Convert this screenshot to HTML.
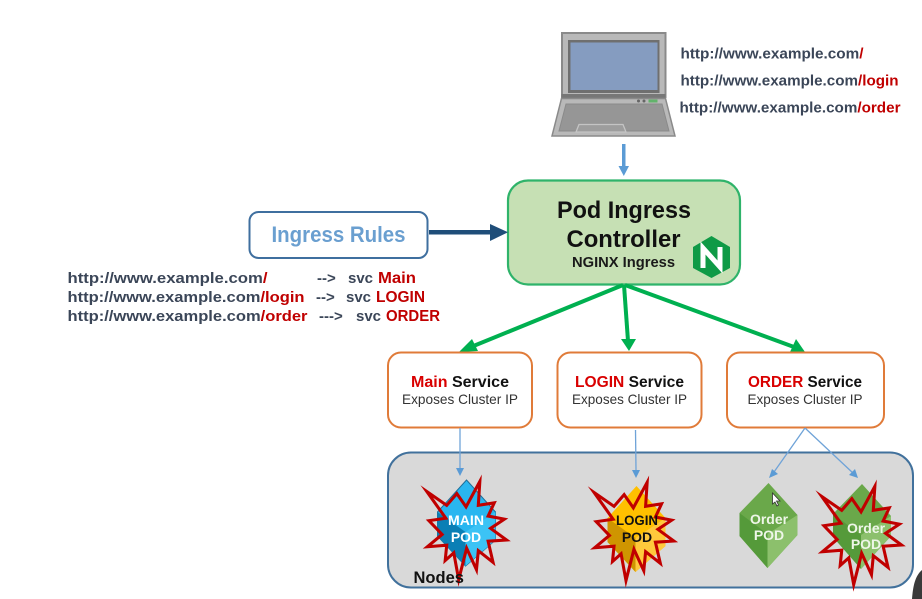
<!DOCTYPE html>
<html>
<head>
<meta charset="utf-8">
<style>
html,body{margin:0;padding:0;background:#fff;width:922px;height:599px;overflow:hidden}
svg{display:block}
text{font-family:"Liberation Sans","Noto Sans CJK KR",sans-serif}
.b{font-weight:700}
.u{font-weight:700;font-size:15px;fill:#3b4658}
.r{fill:#c00000}
.c{text-anchor:middle}
.s{fill:none;stroke:#c00000;stroke-width:10;stroke-linejoin:miter;stroke-miterlimit:30}
</style>
</head>
<body>
<svg width="922" height="599" viewBox="0 0 922 599" xmlns="http://www.w3.org/2000/svg">
<defs>
  <polygon id="star" transform="translate(380,440) scale(.3333) translate(260,265) scale(.92) translate(-260,-265)" points="130,145 195,190 228,152 258,195 303,112 298,190 350,182 330,225 383,235 338,265 390,303 330,307 346,376 298,338 292,400 260,330 234,432 218,345 190,370 195,320 132,325 180,285 137,240 192,232"/>
</defs>

<!-- laptop -->
<rect x="562" y="33" width="103.500" height="64" fill="#b9b9b9" stroke="#8a8a8a" stroke-width="2"/>
<rect x="568" y="40" width="91.500" height="53" fill="#6f6f6f"/>
<rect x="570.500" y="42.500" width="87" height="47.500" fill="#859cc0"/>
<rect x="561.500" y="94" width="104" height="4" fill="#777"/>
<polygon points="561.500,98.500 665.500,98.500 675,136 552,136" fill="#b9b9b9" stroke="#8a8a8a" stroke-width="1.500"/>
<polygon points="566,104 662,104 669,131 559,131" fill="#969696" stroke="#8a8a8a" stroke-width="1"/>
<polygon points="579,124.500 623,124.500 626,132 576,132" fill="#9d9d9d" stroke="#c4c4c4" stroke-width="1.300"/>
<circle cx="638.500" cy="101" r="1.500" fill="#666"/><circle cx="644" cy="101" r="1.500" fill="#666"/>
<rect x="648.500" y="99.500" width="9" height="3" fill="#62b36b"/>

<!-- URLs top -->
<text x="680.500" y="58.500" class="u" textLength="183" lengthAdjust="spacingAndGlyphs">http://www.example.com<tspan class="r">/</tspan></text>
<text x="680.500" y="85.500" class="u" textLength="218" lengthAdjust="spacingAndGlyphs">http://www.example.com<tspan class="r">/login</tspan></text>
<text x="679.500" y="112.500" class="u" textLength="221" lengthAdjust="spacingAndGlyphs">http://www.example.com<tspan class="r">/order</tspan></text>

<!-- laptop arrow -->
<rect x="622" y="144" width="3.500" height="23" fill="#5b9bd5"/>
<polygon points="618.500,166 629,166 623.800,176" fill="#5b9bd5"/>

<!-- ingress controller -->
<rect x="508" y="180.500" width="232" height="104" rx="20" fill="#c6e0b4" stroke="#2fb36a" stroke-width="2.200"/>
<text x="624" y="218" class="b c" font-size="24" fill="#111" textLength="134" lengthAdjust="spacingAndGlyphs">Pod Ingress</text>
<text x="623.500" y="247" class="b c" font-size="24" fill="#111" textLength="114" lengthAdjust="spacingAndGlyphs">Controller</text>
<text x="623.500" y="267" class="b c" font-size="14.500" fill="#1a1a1a" textLength="103" lengthAdjust="spacingAndGlyphs">NGINX Ingress</text>
<polygon points="711.500,236 730,247 730,268 711.500,278 693,268 693,247" fill="#0f9a46"/>
<path d="M703,268 V248 L720,267 V247" fill="none" stroke="#fff" stroke-width="5"/>

<!-- ingress rules -->
<rect x="249.500" y="212" width="178" height="46" rx="9" fill="#fff" stroke="#3f6f9f" stroke-width="2"/>
<text x="338.500" y="242" class="b c" font-size="22" fill="#6a9fd0" textLength="134" lengthAdjust="spacingAndGlyphs">Ingress Rules</text>
<rect x="429" y="230" width="64" height="4.500" fill="#1f4e79"/>
<polygon points="490,224 508,232.300 490,241" fill="#1f4e79"/>

<!-- rule text -->
<text x="67.500" y="283" class="u" textLength="200" lengthAdjust="spacingAndGlyphs">http://www.example.com<tspan class="r">/</tspan></text>
<text x="317" y="283" class="b" font-size="15" fill="#3b4658">--&gt;</text>
<text x="348" y="283" class="b" font-size="15" fill="#3b4658">svc</text>
<text x="378" y="283" class="b r" font-size="15.500" textLength="38" lengthAdjust="spacingAndGlyphs">Main</text>
<text x="67.500" y="302" class="u" textLength="237" lengthAdjust="spacingAndGlyphs">http://www.example.com<tspan class="r">/login</tspan></text>
<text x="316" y="302" class="b" font-size="15" fill="#3b4658">--&gt;</text>
<text x="346" y="302" class="b" font-size="15" fill="#3b4658">svc</text>
<text x="376" y="302" class="b r" font-size="15.500" textLength="49" lengthAdjust="spacingAndGlyphs">LOGIN</text>
<text x="67.500" y="321" class="u" textLength="240" lengthAdjust="spacingAndGlyphs">http://www.example.com<tspan class="r">/order</tspan></text>
<text x="319" y="321" class="b" font-size="15" fill="#3b4658">---&gt;</text>
<text x="356" y="321" class="b" font-size="15" fill="#3b4658">svc</text>
<text x="386" y="321" class="b r" font-size="15.500" textLength="54" lengthAdjust="spacingAndGlyphs">ORDER</text>

<!-- green arrows -->
<g stroke="#00b050" stroke-width="4" fill="none">
  <line x1="623" y1="285" x2="471" y2="347"/>
  <line x1="624" y1="285" x2="628" y2="341"/>
  <line x1="625" y1="285" x2="794" y2="347"/>
</g>
<polygon points="459,352 472,339 478,351" fill="#00b050"/>
<polygon points="629,351 621,339 636,339" fill="#00b050"/>
<polygon points="805,352 790,352 796,339" fill="#00b050"/>

<!-- services -->
<g fill="#fff" stroke="#e07b39" stroke-width="2">
  <rect x="388" y="352.500" width="144" height="75" rx="13"/>
  <rect x="557.500" y="352.500" width="144" height="75" rx="13"/>
  <rect x="727" y="352.500" width="157" height="75" rx="13"/>
</g>
<text x="411" y="387" class="b" font-size="15.500" fill="#111" textLength="98" lengthAdjust="spacingAndGlyphs"><tspan fill="#d90000">Main</tspan> Service</text>
<text x="402" y="404" font-size="14" fill="#333" textLength="116" lengthAdjust="spacingAndGlyphs">Exposes Cluster IP</text>
<text x="575" y="387" class="b" font-size="15.500" fill="#111" textLength="109" lengthAdjust="spacingAndGlyphs"><tspan fill="#d90000">LOGIN</tspan> Service</text>
<text x="572" y="404" font-size="14" fill="#333" textLength="115" lengthAdjust="spacingAndGlyphs">Exposes Cluster IP</text>
<text x="748" y="387" class="b" font-size="15.500" fill="#111" textLength="114" lengthAdjust="spacingAndGlyphs"><tspan fill="#d90000">ORDER</tspan> Service</text>
<text x="747.500" y="404" font-size="14" fill="#333" textLength="115" lengthAdjust="spacingAndGlyphs">Exposes Cluster IP</text>

<!-- nodes panel -->
<rect x="388" y="452.500" width="525" height="135" rx="23" fill="#d9d9d9" stroke="#41719c" stroke-width="2"/>

<!-- blue connectors -->
<g stroke="#6fa3d8" stroke-width="1.300" fill="none">
  <line x1="460" y1="428" x2="460" y2="470"/>
  <line x1="635.500" y1="430" x2="636" y2="470"/>
  <line x1="805" y1="428" x2="774" y2="472"/>
  <line x1="805" y1="428" x2="854" y2="474"/>
</g>
<polygon points="456,468 464,468 460,476" fill="#5b9bd5"/>
<polygon points="632,470 640,470 636,478" fill="#5b9bd5"/>
<polygon points="769,478 772,469 778,474" fill="#5b9bd5"/>
<polygon points="858,478 849,475 855,469" fill="#5b9bd5"/>

<!-- MAIN pod -->
<g transform="translate(466.500,523)">
  <polygon points="0,-43 29,-11 29,17 -1,43 -29,13 -29,-11" fill="#29b6f0" stroke="#1c6f99" stroke-width="1"/>
  <polygon points="-29,-11 -1,9 -1,43 -29,13" fill="#0a7fb5"/>
  <polygon points="-1,9 29,-11 29,17 -1,43" fill="#3cc3f5"/>
</g>
<use href="#star" class="s"/>
<text x="466" y="525" class="b c" font-size="14" fill="#fff" textLength="36" lengthAdjust="spacingAndGlyphs">MAIN</text>
<text x="466" y="542" class="b c" font-size="14" fill="#fff">POD</text>

<!-- LOGIN pod -->
<g transform="translate(636.500,529)">
  <polygon points="0,-43 29,-11 29,17 -1,43 -29,13 -29,-11" fill="#ffc000"/>
  <polygon points="-29,-11 -1,9 -1,43 -29,13" fill="#cf9500"/>
  <polygon points="-1,9 29,-11 29,17 -1,43" fill="#ffc93c"/>
</g>
<g transform="translate(167.300,1)"><use href="#star" class="s"/></g>
<text x="637" y="525" class="b c" font-size="14" fill="#111" textLength="42" lengthAdjust="spacingAndGlyphs">LOGIN</text>
<text x="637" y="542" class="b c" font-size="14" fill="#111">POD</text>

<!-- Order pod 1 -->
<g transform="translate(768.500,526)">
  <polygon points="0,-43 29,-11 29,9 -1,42 -29,10 -29,-13" fill="#6aa84a"/>
  <polygon points="-29,-13 -1,8 -1,42 -29,10" fill="#559a3a"/>
  <polygon points="-1,8 29,-11 29,9 -1,42" fill="#8cc06c"/>
</g>
<text x="769" y="524" class="b c" font-size="14" fill="#eef6e8">Order</text>
<text x="769" y="540" class="b c" font-size="14" fill="#eef6e8">POD</text>
<polygon points="772.500,493 772.500,504 775,502 777,506 778.500,505 776.500,501 780,501" fill="#fff" stroke="#333" stroke-width=".8"/>

<!-- Order pod 2 -->
<g transform="translate(862,527)">
  <polygon points="0,-43 29,-11 29,9 -1,42 -29,10 -29,-13" fill="#6aa84a"/>
  <polygon points="-29,-13 -1,8 -1,42 -29,10" fill="#559a3a"/>
  <polygon points="-1,8 29,-11 29,9 -1,42" fill="#8cc06c"/>
</g>
<g transform="translate(395,5)"><use href="#star" class="s"/></g>
<text x="866" y="533" class="b c" font-size="14" fill="#eef6e8">Order</text>
<text x="866" y="549" class="b c" font-size="14" fill="#eef6e8">POD</text>

<text x="413.500" y="583" class="b" font-size="16.500" fill="#111">Nodes</text>

<!-- dark corner blob -->
<path d="M922,570 C915,576 913,586 912,599 L922,599 Z" fill="#3a3a3a"/>
</svg>
</body>
</html>
